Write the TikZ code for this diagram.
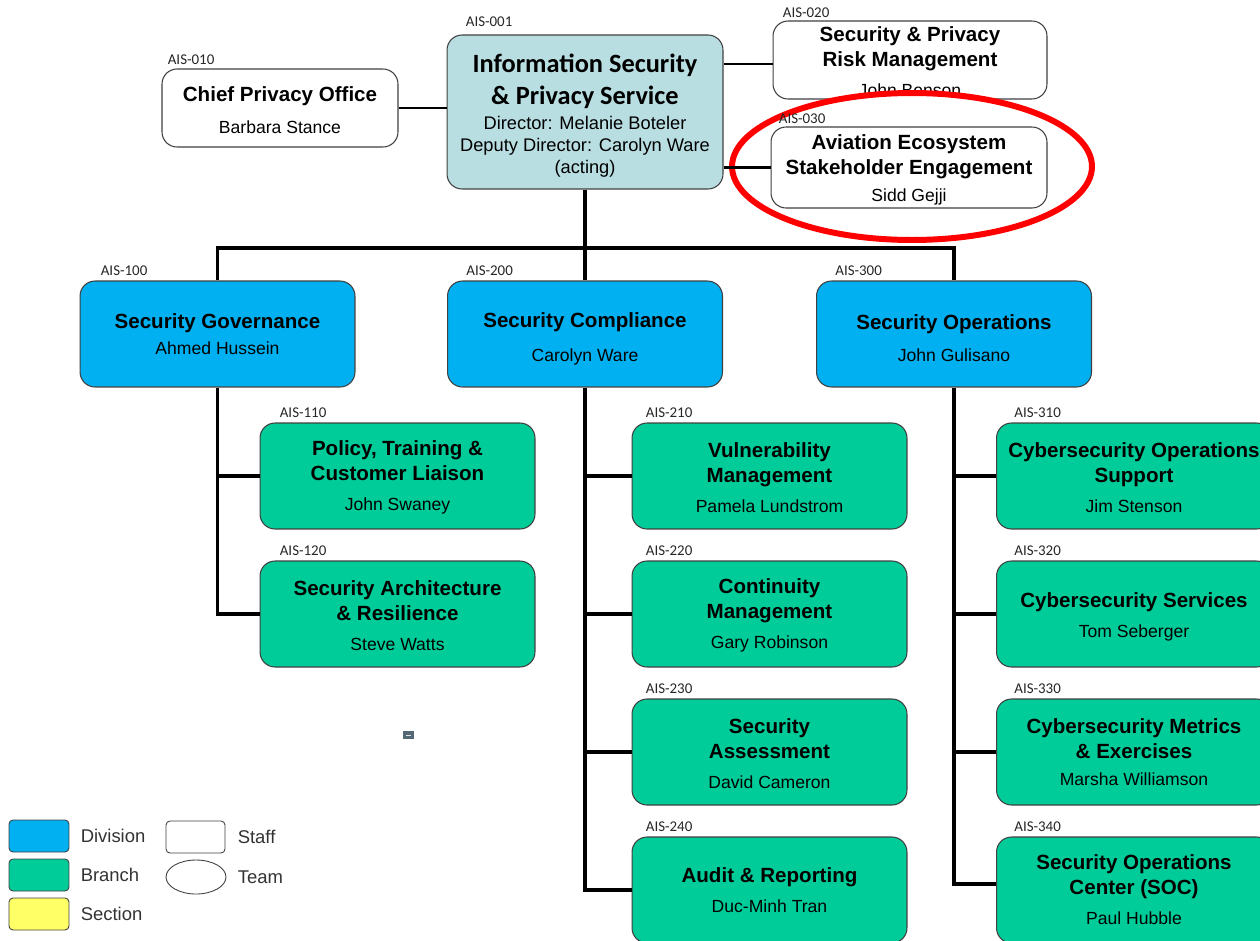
\documentclass[tikz,border=0pt]{standalone}
\usepackage{fontspec}
\setmainfont{Liberation Sans}
\newfontfamily\calibri{Carlito}
\usetikzlibrary{positioning,shapes.geometric}
\definecolor{divblue}{RGB}{0,176,240}
\definecolor{brgreen}{RGB}{0,204,153}
\definecolor{headteal}{RGB}{185,222,226}
\definecolor{secyellow}{RGB}{255,255,102}
\definecolor{markred}{RGB}{255,0,0}
\definecolor{iconblue}{RGB}{84,104,118}
\newcommand{\boxtitle}[1]{{\fontsize{11.7}{14}\selectfont\bfseries #1}}
\newcommand{\headtitle}[1]{{\calibri\fontsize{15}{17}\selectfont\bfseries #1}}

\begin{document}
\begin{tikzpicture}[x=0.02cm, y=-0.02cm,
    unit/.style={draw=black!75, line width=0.6pt, rounded corners=0.3cm,
      minimum width=5.5cm, minimum height=2.12cm, align=center,
      inner sep=0pt, text=black, font=\fontsize{10}{14.2}\selectfont},
    division/.style={unit, fill=divblue},
    branch/.style={unit, fill=brgreen},
    staff/.style={unit, fill=white, minimum height=1.56cm},
    tag/.style={anchor=base west, inner sep=0pt,
      font=\calibri\fontsize{8.5}{10}\selectfont, text=black!85},
    link/.style={line width=2pt},
    sidelink/.style={line width=1.7pt},
    keybox/.style={draw=black!75, line width=0.5pt, rounded corners=0.08cm,
      minimum width=1.2cm, minimum height=0.64cm, inner sep=0pt},
    keytext/.style={inner sep=0pt, font=\fontsize{10.5}{12}\selectfont, text=black!80}]
  \useasboundingbox (0,0) rectangle (1260,940);
  \clip (0,0) rectangle (1260,940);

  % head of the service and its staff offices
  \node[unit, fill=headteal, minimum width=5.52cm, minimum height=3.08cm,
        font=\fontsize{10.4}{12.5}\selectfont] (b001) at (585,112)
    {\rule{0pt}{15pt}\headtitle{Information Security}\\[3.9pt]\headtitle{\& Privacy Service}\\[2.2pt]
     Director: Melanie Boteler\\Deputy Director: Carolyn Ware\\(acting)};
  \node[staff, minimum width=4.72cm] (b010) at (280,108)
    {\rule{0pt}{10.5pt}\boxtitle{Chief Privacy Office}\\[4pt]Barbara Stance};
  \node[staff, minimum width=5.48cm] (b020) at (910,60)
    {\rule{0pt}{10.5pt}\boxtitle{Security \& Privacy}\\\boxtitle{Risk Management}\\[3pt]John Benson};

  % red mark round AIS-030
  \draw[markred, line width=3.4pt, fill=white] (912,166.5) ellipse [x radius=3.6cm, y radius=1.47cm];

  \node[staff, minimum width=5.52cm, minimum height=1.62cm] (b030) at (909,167.5)
    {\rule{0pt}{11pt}\boxtitle{Aviation Ecosystem}\\\boxtitle{Stakeholder Engagement}\\[1pt]Sidd Gejji};

  \node[tag] (t001) at ([xshift=0.38cm, yshift=0.16cm]b001.north west) {AIS-001};
  \node[tag] (t010) at ([xshift=0.12cm, yshift=0.08cm]b010.north west) {AIS-010};
  \node[tag] (t020) at ([xshift=0.2cm, yshift=0.06cm]b020.north west) {AIS-020};
  \node[tag] (t030) at ([xshift=0.16cm, yshift=0.06cm]b030.north west) {AIS-030};

  \draw[sidelink] (b010.east) -- (b010.east -| b001.west);
  \draw[sidelink] ([yshift=-0.08cm]b020.west) -- ([yshift=-0.08cm]b020.west -| b001.east);
  \draw[sidelink] (b030.west) -- (b030.west -| b001.east);

  % divisions
  \node[division] (b100) at (217.5,334) {\boxtitle{Security Governance}\\[1pt]Ahmed Hussein};
  \node[division] (b200) at (585,334) {\rule{0pt}{14pt}\boxtitle{Security Compliance}\\[5pt]Carolyn Ware};
  \node[division] (b300) at (954,334) {\rule{0pt}{13pt}\boxtitle{Security Operations}\\[4pt]John Gulisano};
  \node[tag] (t100) at ([xshift=0.42cm, yshift=0.1cm]b100.north west) {AIS-100};
  \node[tag] (t200) at ([xshift=0.38cm, yshift=0.1cm]b200.north west) {AIS-200};
  \node[tag] (t300) at ([xshift=0.38cm, yshift=0.1cm]b300.north west) {AIS-300};

  \coordinate (bus) at (585,248);
  \draw[link] (b001.south) -- (b200.north);
  \draw[link] (b100.north) |- (bus) -| (b300.north);

  % branches under Security Governance
  \node[branch] (b110) at (397.5,476) {\rule{0pt}{10pt}\boxtitle{Policy, Training \&}\\\boxtitle{Customer Liaison}\\[2.8pt]John Swaney};
  \node[branch] (b120) at (397.5,614) {\rule{0pt}{10pt}\boxtitle{Security Architecture}\\\boxtitle{\& Resilience}\\[2.8pt]Steve Watts};
  \node[tag] (t110) at ([xshift=0.4cm, yshift=0.1cm]b110.north west) {AIS-110};
  \node[tag] (t120) at ([xshift=0.4cm, yshift=0.1cm]b120.north west) {AIS-120};
  \draw[link] (b100.south) |- (b120.west);
  \draw[link] (b110.west) -- (b110.west -| b100.south);

  % branches under Security Compliance
  \node[branch] (b210) at (769.5,476) {\rule{0pt}{10pt}\boxtitle{Vulnerability}\\\boxtitle{Management}\\[2.8pt]Pamela Lundstrom};
  \node[branch] (b220) at (769.5,614) {\rule{0pt}{10pt}\boxtitle{Continuity}\\\boxtitle{Management}\\[2.8pt]Gary Robinson};
  \node[branch] (b230) at (769.5,752) {\rule{0pt}{10pt}\boxtitle{Security}\\\boxtitle{Assessment}\\[2.8pt]David Cameron};
  \node[branch] (b240) at (769.5,890) {\boxtitle{Audit \& Reporting}\\[2.8pt]Duc-Minh Tran};
  \node[tag] (t210) at ([xshift=0.28cm, yshift=0.1cm]b210.north west) {AIS-210};
  \node[tag] (t220) at ([xshift=0.28cm, yshift=0.1cm]b220.north west) {AIS-220};
  \node[tag] (t230) at ([xshift=0.28cm, yshift=0.1cm]b230.north west) {AIS-230};
  \node[tag] (t240) at ([xshift=0.28cm, yshift=0.1cm]b240.north west) {AIS-240};
  \draw[link] (b200.south) |- (b240.west);
  \draw[link] (b210.west) -- (b210.west -| b200.south);
  \draw[link] (b220.west) -- (b220.west -| b200.south);
  \draw[link] (b230.west) -- (b230.west -| b200.south);

  % branches under Security Operations
  \node[branch] (b310) at (1134,476) {\rule{0pt}{10pt}\boxtitle{Cybersecurity Operations}\\\boxtitle{Support}\\[2.8pt]Jim Stenson};
  \node[branch] (b320) at (1134,614) {\rule{0pt}{12pt}\boxtitle{Cybersecurity Services}\\[2.8pt]Tom Seberger};
  \node[branch] (b330) at (1134,752) {\boxtitle{Cybersecurity Metrics}\\\boxtitle{\& Exercises}\\[1pt]Marsha Williamson};
  \node[branch] (b340) at (1134,890) {\boxtitle{Security Operations}\\\boxtitle{Center (SOC)}\\[2.8pt]Paul Hubble};
  \node[tag] (t310) at ([xshift=0.36cm, yshift=0.1cm]b310.north west) {AIS-310};
  \node[tag] (t320) at ([xshift=0.36cm, yshift=0.1cm]b320.north west) {AIS-320};
  \node[tag] (t330) at ([xshift=0.36cm, yshift=0.1cm]b330.north west) {AIS-330};
  \node[tag] (t340) at ([xshift=0.36cm, yshift=0.1cm]b340.north west) {AIS-340};
  \draw[link] (b300.south) |- ([yshift=0.12cm]b340.west);
  \draw[link] (b310.west) -- (b310.west -| b300.south);
  \draw[link] (b320.west) -- (b320.west -| b300.south);
  \draw[link] (b330.west) -- (b330.west -| b300.south);

  % stray icon
  \fill[iconblue] (403,731) rectangle (414,739);
  \draw[white!75!gray, line width=0.5pt] (406,735) -- (411,735);

  % legend
  \node[keybox, fill=divblue] (kdiv) at (39,836) {};
  \node[keybox, fill=brgreen] (kbr) at (39,875) {};
  \node[keybox, fill=secyellow] (ksec) at (39,914) {};
  \node[keybox, fill=white, minimum width=1.18cm] (kstaff) at (195.5,837) {};
  \node[draw=black!75, line width=0.5pt, ellipse, minimum width=1.2cm, minimum height=0.68cm,
        inner sep=0pt] (kteam) at (196,877) {};
  \node[keytext, anchor=west, right=0.22cm of kdiv] (ldiv) {Division};
  \node[keytext, anchor=west, right=0.22cm of kbr] (lbr) {Branch};
  \node[keytext, anchor=west, right=0.22cm of ksec] (lsec) {Section};
  \node[keytext, anchor=west, right=0.24cm of kstaff] (lstaff) {Staff};
  \node[keytext, anchor=west, right=0.22cm of kteam] (lteam) {Team};
\end{tikzpicture}
\end{document}
